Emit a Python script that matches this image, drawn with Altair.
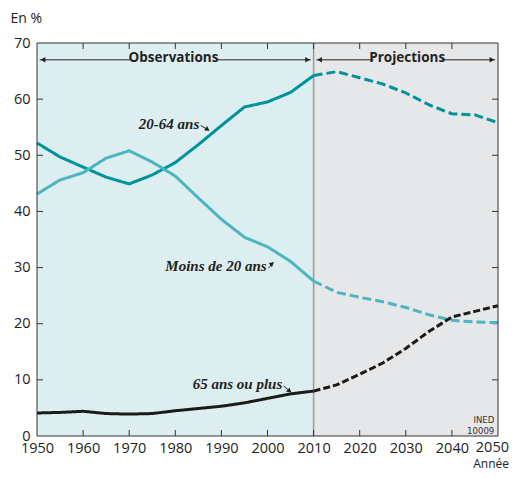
import altair as alt
import pandas as pd

# ---------------- data ----------------
years_obs = [1950, 1955, 1960, 1965, 1970, 1975, 1980, 1985, 1990, 1995, 2000, 2005, 2010]
years_proj = [2010, 2015, 2020, 2025, 2030, 2035, 2040, 2045, 2050]

s2064_obs = [52.2, 49.7, 47.9, 46.1, 44.9, 46.5, 48.7, 51.9, 55.3, 58.6, 59.5, 61.2, 64.2]
s2064_proj = [64.2, 64.9, 63.8, 62.7, 61.1, 59.0, 57.4, 57.2, 55.8]
s020_obs = [43.1, 45.6, 46.9, 49.5, 50.8, 48.8, 46.3, 42.4, 38.6, 35.4, 33.7, 31.1, 27.6]
s020_proj = [27.6, 25.6, 24.7, 23.9, 22.9, 21.6, 20.6, 20.3, 20.2]
s65_obs = [4.1, 4.2, 4.4, 4.0, 3.9, 4.0, 4.5, 4.9, 5.3, 5.9, 6.7, 7.5, 8.0]
s65_proj = [8.0, 9.1, 11.0, 13.0, 15.6, 18.6, 21.2, 22.2, 23.2]

x_labels = [1950, 1960, 1970, 1980, 1990, 2000, 2010, 2020, 2030, 2040]
x_last_label = ["2050"]
y_labels = [0, 10, 20, 30, 40, 50, 60, 70]
x_ticks = [1960, 1970, 1980, 1990, 2000, 2010, 2020, 2030, 2040]
y_ticks = [10, 20, 30, 40, 50, 60]

W, H = 461, 393
FONT = "Open Sans"
SERIF = "Liberation Serif"
LBL = 14.5

rows = []
for name, ys, vals, per in [
    ("20-64", years_obs, s2064_obs, "obs"), ("20-64", years_proj, s2064_proj, "proj"),
    ("m20", years_obs, s020_obs, "obs"), ("m20", years_proj, s020_proj, "proj"),
    ("65", years_obs, s65_obs, "obs"), ("65", years_proj, s65_proj, "proj"),
]:
    for y, v in zip(ys, vals):
        rows.append({"year": y, "value": v, "style": f"{name}|{per}"})
df = pd.DataFrame(rows)

styles = ["20-64|obs", "20-64|proj", "m20|obs", "m20|proj", "65|obs", "65|proj"]
colors = ["#00929a", "#00929a", "#4cb5c0", "#4cb5c0", "#1a1a1a", "#1a1a1a"]
dashes = [[1, 0], [9, 4], [1, 0], [9, 4], [1, 0], [7, 3]]
widths = [3, 3, 3, 3, 4.5, 4.5]

xs = alt.Scale(domain=[1950, 2050], nice=False)
ys_ = alt.Scale(domain=[0, 70], nice=False)

x_axis = alt.Axis(values=x_labels, ticks=False, domain=False, grid=False, labelFlush=False,
                  labelOverlap=False, labelFont=FONT, labelFontSize=LBL, labelColor="#222",
                  labelPadding=5, title=None, format="d")
y_axis = alt.Axis(values=y_labels, ticks=False, domain=False, grid=False, labelFont=FONT,
                  labelFontSize=LBL, labelColor="#222", labelPadding=7, title="En %",
                  titleAngle=0, titleAlign="left", titleBaseline="middle", titleX=-27,
                  titleY=-25, titleFont=FONT, titleFontSize=14, titleFontWeight="normal",
                  titleColor="#222", labelFlush=False)

def X(field="x", **kw):
    return alt.X(field, type="quantitative", scale=xs, axis=x_axis, **kw)

def Y(field="y", **kw):
    return alt.Y(field, type="quantitative", scale=ys_, axis=y_axis, **kw)

# backgrounds
bg_obs = alt.Chart(pd.DataFrame({"x": [1950], "x2": [2010]})).mark_rect(fill="#ddeef1").encode(
    x=X("x"), x2="x2", y=alt.value(0), y2=alt.value(H))
bg_proj = alt.Chart(pd.DataFrame({"x": [2010], "x2": [2050]})).mark_rect(fill="#e6e7e9").encode(
    x=X("x"), x2="x2", y=alt.value(0), y2=alt.value(H))

vline = alt.Chart(pd.DataFrame({"x": [2010]})).mark_rule(color="#9a9a9a", strokeWidth=1.5).encode(
    x=X("x"), y=alt.value(0), y2=alt.value(H))

lines = alt.Chart(df).mark_line(strokeCap="butt", strokeJoin="round").encode(
    x=X("year"), y=Y("value"),
    color=alt.Color("style:N", scale=alt.Scale(domain=styles, range=colors), legend=None),
    strokeDash=alt.StrokeDash("style:N", scale=alt.Scale(domain=styles, range=dashes), legend=None),
    strokeWidth=alt.StrokeWidth("style:N", scale=alt.Scale(domain=styles, range=widths), legend=None),
    detail="style:N",
)

# ticks (inward)
tdx = pd.DataFrame({"x": x_ticks})
tdy = pd.DataFrame({"y": y_ticks})
tk = dict(color="#333", strokeWidth=1)
t_bottom = alt.Chart(tdx).mark_rule(**tk).encode(x=X("x"), y=alt.value(H), y2=alt.value(H - 6))
t_top = alt.Chart(tdx).mark_rule(**tk).encode(x=X("x"), y=alt.value(0), y2=alt.value(6))
t_left = alt.Chart(tdy).mark_rule(**tk).encode(y=Y("y"), x=alt.value(0), x2=alt.value(6))
t_right = alt.Chart(tdy).mark_rule(**tk).encode(y=Y("y"), x=alt.value(W), x2=alt.value(W - 6))

# header arrows
seg = pd.DataFrame({"x": [1950.6, 1988.9, 2010.6, 2037.8],
                    "x2": [1970.2, 2009.4, 2023.0, 2049.4],
                    "y": [67.0] * 4})
header_rules = alt.Chart(seg).mark_rule(color="#222", strokeWidth=1).encode(x=X("x"), x2="x2", y=Y("y"))
heads_l = pd.DataFrame({"x": [1951.3, 2011.3], "y": [67.0, 67.0]})
heads_r = pd.DataFrame({"x": [2008.7, 2048.7], "y": [67.0, 67.0]})
header_hl = alt.Chart(heads_l).mark_point(shape="triangle-left", filled=True, size=30, opacity=1,
                                          color="#222").encode(x=X("x"), y=Y("y"))
header_hr = alt.Chart(heads_r).mark_point(shape="triangle-right", filled=True, size=30, opacity=1,
                                          color="#222").encode(x=X("x"), y=Y("y"))
htext = pd.DataFrame({"x": [1979.6, 2030.3], "y": [67.3, 67.3], "t": ["Observations", "Projections"]})
header_text = alt.Chart(htext).mark_text(font=FONT, fontSize=13.5, fontWeight="bold", color="#222",
                                         baseline="middle").encode(x=X("x"), y=Y("y"), text="t:N")

# series labels
lab = pd.DataFrame({"x": [1985.2, 1999.8, 2003.2], "y": [55.6, 30.3, 9.3],
                    "t": ["20-64 ans", "Moins de 20 ans", "65 ans ou plus"]})
labels = alt.Chart(lab).mark_text(font=SERIF, fontSize=15, fontWeight="bold", fontStyle="italic",
                                  color="#222", align="right", baseline="middle").encode(
    x=X("x"), y=Y("y"), text="t:N")
arr = pd.DataFrame({"x": [1985.5, 2000.2, 2003.5], "y": [55.3, 29.9, 8.9],
                    "x2": [1987.2, 2001.2, 2005.0], "y2": [54.5, 30.9, 7.9]})
arrow_rules = alt.Chart(arr).mark_rule(color="#222", strokeWidth=1).encode(
    x=X("x"), y=Y("y"), x2="x2", y2="y2")
ah = pd.DataFrame({"x": [1987.0, 2001.0, 2004.8], "y": [54.6, 30.7, 8.0], "a": [122, 52, 128]})
arrow_heads = alt.Chart(ah).mark_point(shape="triangle-up", filled=True, size=28, opacity=1,
                                       color="#222").encode(x=X("x"), y=Y("y"), angle=alt.Angle("a:Q", scale=None))

# INED credit
ined = pd.DataFrame({"x": [2049.2, 2049.2], "y": [2.9, 0.95], "t": ["INED", "10009"]})
ined_text = alt.Chart(ined).mark_text(font="DejaVu Sans Condensed", fontSize=9.5, color="#333",
                                      align="right", baseline="middle").encode(x=X("x"), y=Y("y"), text="t:N")

# last x label (kept inside the page) and axis title "Année"
last_lbl = alt.Chart(pd.DataFrame({"x": [2050], "t": x_last_label})).mark_text(
    font=FONT, fontSize=LBL, color="#222", align="right", baseline="top", dx=11).encode(
    x=X("x"), y=alt.value(H + 5), text="t:N")
annee = alt.Chart(pd.DataFrame({"x": [2050], "t": ["Année"]})).mark_text(
    font=FONT, fontSize=12, color="#222", align="right", baseline="middle", dx=11).encode(
    x=X("x"), y=alt.value(H + 27.5), text="t:N")

border = alt.Chart(pd.DataFrame({"a": [0]})).mark_rect(filled=False, stroke="#333", strokeWidth=1).encode(
    x=alt.value(0), x2=alt.value(W), y=alt.value(0), y2=alt.value(H))

chart = alt.layer(
    bg_obs, bg_proj, vline, t_bottom, t_top, t_left, t_right, lines,
    header_rules, header_hl, header_hr, header_text, labels, arrow_rules, arrow_heads,
    ined_text, last_lbl, annee, border,
).properties(
    width=W, height=H,
    autosize=alt.AutoSizeParams(type="none"),
    padding={"left": 29, "top": 35, "right": 11, "bottom": 34},
).configure_view(stroke=None)

chart.save("out.html", embed_options={"renderer": "svg", "actions": False})
